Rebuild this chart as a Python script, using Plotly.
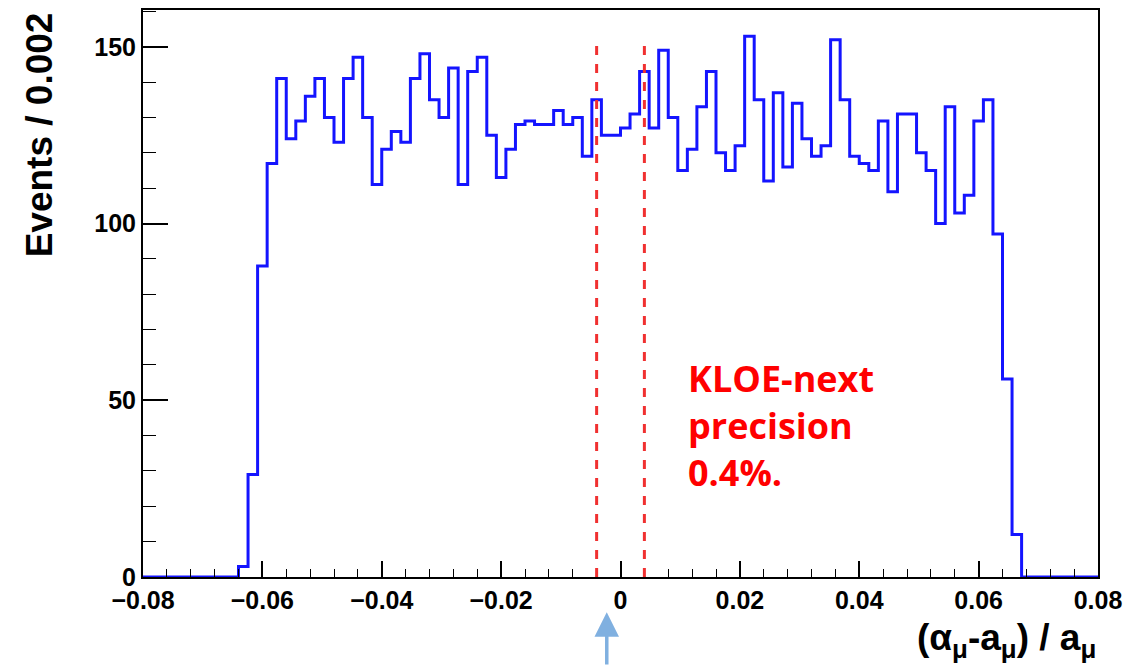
import numpy as np
import plotly.graph_objects as go

# Histogram definition (100 bins over [-0.08, 0.08])
x_min = -0.08
x_max = 0.08
n_bins = 100
counts = [0, 0, 0, 0, 0, 0, 0, 0, 0, 0,
          3, 29, 88, 117, 141, 124, 129, 136, 141, 130,
          123, 141, 147, 130, 111, 121, 126, 123, 141, 148,
          135, 130, 144, 111, 143, 147, 125, 113, 121, 128,
          129, 128, 128, 132, 128, 130, 119, 135, 125, 125,
          127, 131, 143, 127, 149, 130, 115, 121, 133, 143,
          120, 115, 122, 153, 135, 112, 137, 116, 134, 124,
          119, 122, 152, 135, 119, 117, 115, 129, 109, 131,
          131, 120, 115, 100, 133, 103, 108, 129, 135, 97,
          56, 12, 0, 0, 0, 0, 0, 0, 0, 0]
precision_lines = [-0.004, 0.004]
arrow_x = -0.0023
x_ticks = [-0.08, -0.06, -0.04, -0.02, 0, 0.02, 0.04, 0.06, 0.08]
x_tick_text = ["\u22120.08", "\u22120.06", "\u22120.04", "\u22120.02", "0", "0.02", "0.04", "0.06", "0.08"]
y_ticks = [0, 50, 100, 150]

edges = np.linspace(x_min, x_max, n_bins + 1)
xs = list(edges)
ys = list(counts) + [counts[-1]]

fig = go.Figure()
fig.add_trace(go.Scatter(x=xs, y=ys, mode="lines", line=dict(shape="hv", color="#1414ff", width=3),
                         showlegend=False, hoverinfo="skip"))

shapes = []
for xv in precision_lines:
    shapes.append(dict(type="line", xref="x", yref="y", x0=xv, x1=xv, y0=0, y1=152,
                       line=dict(color="#f03030", width=3, dash="dash")))

FAM = "Liberation Sans, Arial, sans-serif"
font_ticks = dict(family=FAM, size=25, color="black", weight="bold")

fig.update_layout(
    width=1124, height=666,
    margin=dict(l=143, r=26, t=10, b=89),
    paper_bgcolor="white", plot_bgcolor="white",
    shapes=shapes,
    xaxis=dict(range=[x_min, x_max], tickvals=x_ticks, ticktext=x_tick_text, automargin=False,
               ticks="inside", ticklen=16, tickwidth=1.5, tickcolor="black",
               minor=dict(dtick=0.004, tick0=0, ticks="inside", ticklen=8, tickcolor="black", tickwidth=1.2),
               showline=True, linecolor="black", linewidth=2, mirror=True,
               showgrid=False, zeroline=False, tickfont=font_ticks),
    yaxis=dict(range=[0, 160.4], tickvals=y_ticks, automargin=False,
               ticks="inside", ticklen=25, tickwidth=1.5, tickcolor="black",
               minor=dict(dtick=10, tick0=0, ticks="inside", ticklen=13, tickcolor="black", tickwidth=1.2),
               showline=True, linecolor="black", linewidth=2, mirror=True,
               showgrid=False, zeroline=False, tickfont=font_ticks),
)

fig.add_annotation(text="Events / 0.002", textangle=-90,
                   xref="paper", yref="paper", x=-0.108, y=1.0, xanchor="center", yanchor="top",
                   showarrow=False,
                   font=dict(family=FAM, size=37, color="black", weight="bold"))

fig.add_annotation(text="(\u03b1<sub>\u03bc</sub>-a<sub>\u03bc</sub>) / a<sub>\u03bc</sub>",
                   xref="paper", yref="paper", x=1.0, y=-0.067, xanchor="right", yanchor="top",
                   showarrow=False,
                   font=dict(family=FAM, size=37, color="black", weight="bold"))

fig.add_annotation(text="KLOE-next<br>precision<br>0.4%.",
                   xref="paper", yref="paper", x=0.569, y=0.396, xanchor="left", yanchor="top",
                   showarrow=False, align="left",
                   font=dict(family="Open Sans, sans-serif", size=36, color="#ff0000", weight="bold"))

fig.add_annotation(text="", x=arrow_x, y=-0.062, xref="x", yref="paper",
                   showarrow=True, ax=0, ay=58, axref="pixel", ayref="pixel",
                   arrowhead=2, arrowsize=1.4, arrowwidth=3.5, arrowcolor="#80b0e0")

# remove the default page margin so the 1124x666 figure fills the window exactly
fig.write_html("out.html", config={"displayModeBar": False},
               post_script="document.body.style.margin='0';document.body.style.overflow='hidden';")
